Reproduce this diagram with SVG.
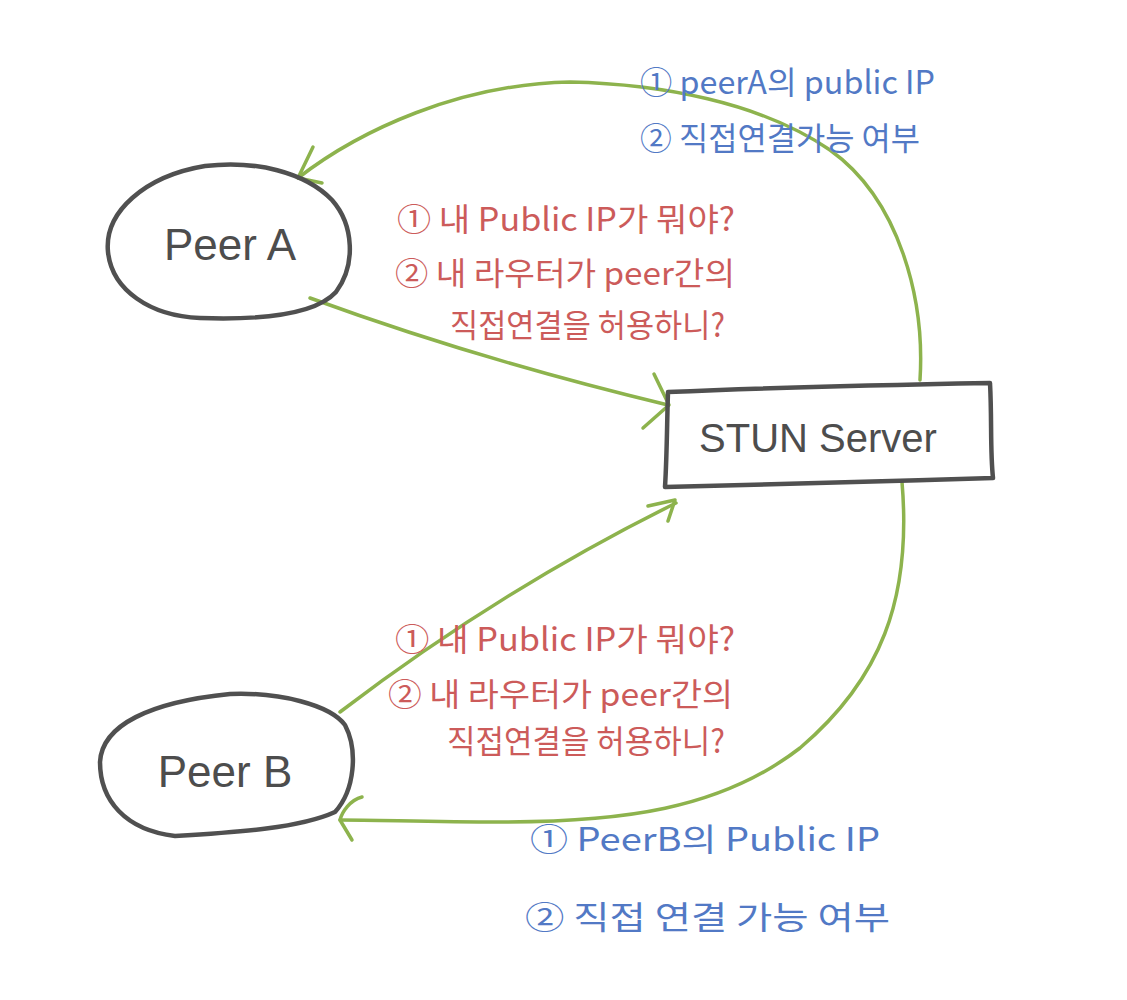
<svg xmlns="http://www.w3.org/2000/svg" width="1127" height="1000" viewBox="0 0 1127 1000">
<style>
.node{fill:none;stroke:#505050;stroke-width:4.5;stroke-linecap:round;stroke-linejoin:round}
.lbl{font-family:"Liberation Sans","Noto Sans CJK KR",sans-serif;fill:#4d4d4d}
.conn{fill:none;stroke:#8db34d;stroke-width:3.5;stroke-linecap:round;stroke-linejoin:round}
.red{font-family:"Noto Sans CJK KR",sans-serif;font-size:32px;fill:#cc5b5a}
.blue{font-family:"Noto Sans CJK KR",sans-serif;font-size:32px;fill:#5279c5}
</style>
<rect width="1127" height="1000" fill="#ffffff"/>
<g id="connectors">
  <path class="conn" d="M310,298 Q480,360 668,405"/>
  <path class="conn" d="M654,374 L669,405 L643,428"/>
  <path class="conn" d="M920,380 C925,300 900,200 830,150 C760,102 660,84 570,82 C460,84 360,130 298,178"/>
  <path class="conn" d="M313,147 L298,178 L322,183"/>
  <path class="conn" d="M340,712 Q500,590 676,503"/>
  <path class="conn" d="M648,506 L675,500 L668,521"/>
  <path class="conn" d="M902,482 C912,600 880,680 800,748 C720,810 620,822 500,822 C430,822 380,820 340,820"/>
  <path class="conn" d="M362,797 C350,800 342,812 340,820 L352,840"/>
</g>
<g id="peerA">
  <path class="node" d="M205,166 C255,160 305,172 332,200 C354,225 356,265 336,292 C314,316 258,320 200,318 C150,316 112,290 108,252 C104,212 145,176 205,166 Z"/>
  <text class="lbl" x="230" y="260" font-size="44" text-anchor="middle">Peer A</text>
</g>
<g id="peerB">
  <path class="node" d="M230,694 C280,692 330,705 345,725 C358,750 355,790 335,812 C300,828 240,832 175,836 C125,830 100,800 100,762 C102,725 150,702 230,694 Z"/>
  <text class="lbl" x="225" y="787" font-size="44" text-anchor="middle">Peer B</text>
</g>
<g id="stun">
  <path class="node" d="M668,392 C760,388 880,385 990,383 C992,420 990,450 993,478 C880,482 760,484 665,487 C667,455 667,420 668,392 Z"/>
  <text class="lbl" x="818" y="452" font-size="40" text-anchor="middle">STUN Server</text>
</g>
<g id="labels">
  <text class="blue" x="640" y="94" textLength="295" lengthAdjust="spacingAndGlyphs">① peerA의 public IP</text>
  <text class="blue" x="640" y="150" textLength="280" lengthAdjust="spacingAndGlyphs">② 직접연결가능 여부</text>
  <text class="red" x="397" y="231" textLength="338" lengthAdjust="spacingAndGlyphs">① 내 Public IP가 뭐야?</text>
  <text class="red" x="395" y="285" textLength="340" lengthAdjust="spacingAndGlyphs">② 내 라우터가 peer간의</text>
  <text class="red" x="450" y="337" textLength="275" lengthAdjust="spacingAndGlyphs">직접연결을 허용하니?</text>
  <text class="red" x="395" y="651" textLength="340" lengthAdjust="spacingAndGlyphs">① 내 Public IP가 뭐야?</text>
  <text class="red" x="388" y="706" textLength="345" lengthAdjust="spacingAndGlyphs">② 내 라우터가 peer간의</text>
  <text class="red" x="447" y="753" textLength="278" lengthAdjust="spacingAndGlyphs">직접연결을 허용하니?</text>
  <text class="blue" x="530" y="851" textLength="350" lengthAdjust="spacingAndGlyphs">① PeerB의  Public IP</text>
  <text class="blue" x="525" y="929" textLength="365" lengthAdjust="spacingAndGlyphs">② 직접 연결 가능 여부</text>
</g>
</svg>
